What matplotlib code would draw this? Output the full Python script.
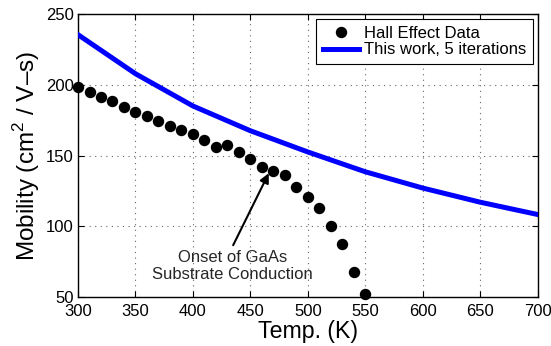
import matplotlib
matplotlib.use("Agg")
import matplotlib.pyplot as plt

plt.rcParams['font.family'] = ['Liberation Sans', 'DejaVu Sans']
plt.rcParams['mathtext.fontset'] = 'custom'
plt.rcParams['mathtext.rm'] = 'Liberation Sans'

hall_T = [300, 310, 320, 330, 340, 350, 360, 370, 380, 390, 400, 410, 420,
          430, 440, 450, 460, 470, 480, 490, 500, 510, 520, 530, 540, 550]
hall_mu = [198.2, 194.8, 191.3, 188.3, 184.2, 180.5, 177.9, 174.1, 170.8,
           168.2, 165.1, 160.7, 156.2, 157.1, 152.2, 147.2, 142.0, 139.2,
           136.0, 127.7, 120.6, 112.6, 100.2, 87.5, 67.8, 51.8]

model_T = [300, 350, 400, 450, 500, 550, 600, 650, 700]
model_mu = [235.4, 207.8, 185.0, 167.5, 152.5, 138.5, 127.0, 117.0, 108.3]

xticks = [300, 350, 400, 450, 500, 550, 600, 650, 700]
yticks = [50, 100, 150, 200, 250]

fig = plt.figure(figsize=(5.51, 3.46), dpi=100)
ax = fig.add_axes([0.1416, 0.1416, 0.8342, 0.8179])

ax.plot(hall_T, hall_mu, 'o', color='black', markersize=7.2, clip_on=False,
        zorder=4, label='Hall Effect Data')
ax.plot(model_T, model_mu, '-', color=(0, 0, 1), linewidth=3.6, zorder=3,
        label='This work, 5 iterations')

ax.set_xlim(300, 700)
ax.set_ylim(50, 250)
ax.set_xticks(xticks)
ax.set_yticks(yticks)
ax.tick_params(direction='in', top=True, right=True, labelsize=12, length=4,
               width=0.8)
ax.tick_params(axis='x', pad=5)
ax.tick_params(axis='y', pad=3)
for s in ax.spines.values():
    s.set_linewidth(1.0)
ax.grid(True, linestyle=(0, (1, 4)), color='0.4', linewidth=0.8)
ax.set_axisbelow(True)

ax.set_xlabel('Temp. (K)', fontsize=16.7, labelpad=0.5)
ax.set_ylabel('Mobility (cm$^{\\mathregular{2}}$ / V\u2013s)', fontsize=17.5,
              labelpad=3)

ax.annotate('', xy=(466, 137.5), xytext=(435, 86.6),
            arrowprops=dict(arrowstyle='-|>', color='black', lw=1.5,
                            mutation_scale=14, shrinkA=0, shrinkB=0))
ax.text(434.5, 72, 'Onset of GaAs\nSubstrate Conduction', ha='center',
        va='center', fontsize=12, color='0.15', linespacing=1.15)

leg = ax.legend(loc='upper right', fontsize=12, frameon=True, fancybox=False,
                edgecolor='black', framealpha=1, borderpad=0.4,
                handlelength=2.15, handletextpad=0.3, labelspacing=0.1,
                borderaxespad=0.3)
leg.get_frame().set_linewidth(0.8)

fig.savefig('out.png', dpi=100)
